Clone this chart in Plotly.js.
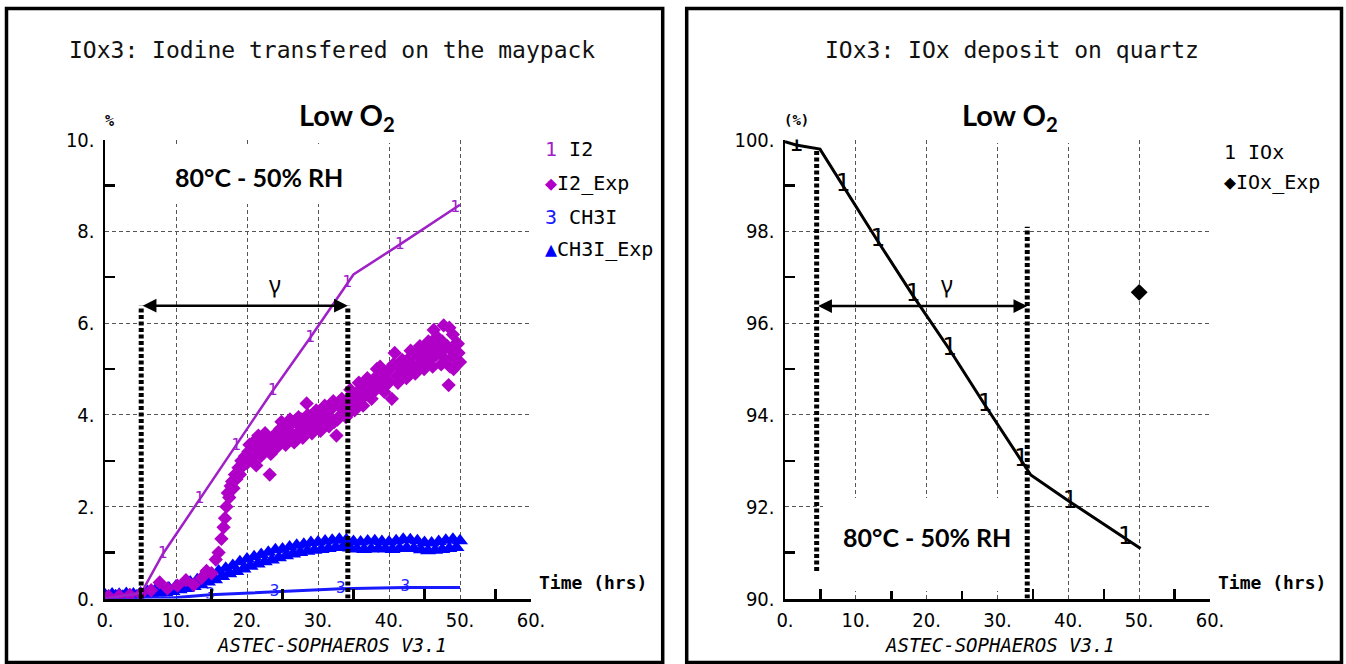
<!DOCTYPE html>
<html>
<head>
<meta charset="utf-8">
<script src="https://cdn.plot.ly/plotly-3.0.1.min.js"></script>
<style>
  html, body { margin: 0; padding: 0; background: #fff; }
  #chart { width: 1346px; height: 664px; }
</style>
</head>
<body>
<div id="chart"></div>
<script>
// ---------------- DATA ----------------
const xTickVals = [0, 10, 20, 30, 40, 50, 60];
const xTickText = ['0.', '10.', '20.', '30.', '40.', '50.', '60.'];
const xMinorVals = [5, 15, 25, 35, 45, 55];

const yLeftTickVals = [0, 2, 4, 6, 8, 10];
const yLeftTickText = ['0.', '2.', '4.', '6.', '8.', '10.'];
const yLeftMinorVals = [1, 3, 5, 7, 9];

const yRightTickVals = [90, 92, 94, 96, 98, 100];
const yRightTickText = ['90.', '92.', '94.', '96.', '98.', '100.'];
const yRightMinorVals = [91, 93, 95, 97, 99];

// I2 (calculation, curve "1")
const i2CalcX = [0, 5.1, 8.1, 13.3, 18.45, 23.6, 28.9, 34.1, 35.0, 41.5, 49.3, 50.0];
const i2CalcY = [0.0, 0.12, 0.96, 2.16, 3.33, 4.52, 5.68, 6.88, 7.06, 7.71, 8.51, 8.58];
const i2CalcLbl = ['', '', '1', '1', '1', '1', '1', '1', '', '1', '1', ''];

// CH3I (calculation, curve "3")
const ch3iCalcX = [0, 10.0, 14.8, 23.9, 33.2, 42.3, 50.0];
const ch3iCalcY = [0.0, 0.02, 0.08, 0.14, 0.21, 0.24, 0.24];
const ch3iCalcLbl = ['', '', '3', '3', '3', '3', ''];

// I2_Exp (experimental, diamonds)
const i2ExpX = [0.5, 2.0, 3.5, 5.0, 6.5, 7.7, 8.8, 10.2, 11.4, 12.5, 13.6, 14.3, 15.0, 15.6, 16.0, 16.4, 16.7, 16.9,
  17.1, 17.3, 17.5, 17.7, 17.9, 18.1, 18.3, 18.5, 18.8, 19.0, 19.2, 19.5, 19.7, 20.0, 20.2, 20.5,
  20.8, 21.0, 21.3, 21.6, 21.8, 22.1, 22.4, 22.7, 23.0, 23.2, 23.5, 23.8, 24.1, 24.4, 24.7, 25.0,
  25.3, 25.6, 25.9, 26.2, 26.5, 26.8, 27.1, 27.4, 27.7, 28.0, 28.4, 28.7, 29.0, 29.3, 29.6, 29.9,
  30.2, 30.5, 30.8, 31.1, 31.4, 31.7, 32.0, 32.3, 32.6, 32.9, 33.2, 33.5, 33.8, 34.1, 34.4, 34.7,
  35.0, 35.3, 35.6, 35.9, 36.2, 36.5, 36.8, 37.1, 37.4, 37.7, 38.0, 38.3, 38.6, 38.9, 39.2, 39.5,
  39.8, 40.1, 40.4, 40.8, 41.1, 41.4, 41.7, 42.0, 42.3, 42.6, 42.9, 43.2, 43.5, 43.9, 44.2, 44.5,
  44.8, 45.1, 45.4, 45.7, 46.0, 46.3, 46.6, 46.9, 47.2, 47.5, 47.7, 48.0, 48.2, 48.4, 48.6, 48.8,
  49.0, 49.2, 49.4, 49.6, 49.8, 50.0,
  20.35, 21.15, 21.95, 22.55, 23.35, 24.25, 24.85, 25.45, 26.05, 26.65, 27.25, 27.85, 28.55, 29.15, 29.75,
  30.35, 30.95, 31.55, 32.15, 32.75, 33.35, 33.95, 34.55, 35.15, 35.75, 36.35, 36.95, 37.55, 38.15, 38.75,
  39.35, 39.95, 40.6, 41.25, 41.85, 42.45, 43.05, 43.7, 44.35, 44.95, 45.55, 46.15, 46.75, 47.35, 47.85,
  48.5, 49.1, 49.7];
const i2ExpY = [0.05, 0.06, 0.08, 0.10, 0.18, 0.35, 0.22, 0.28, 0.40, 0.30, 0.45, 0.60, 0.55, 0.85, 1.00, 1.30, 1.55, 1.75,
  2.00, 2.30, 2.20, 2.45, 2.55, 2.40, 2.70, 2.60, 2.85, 2.70, 3.00, 2.90, 3.10, 2.95, 3.20, 3.05,
  3.30, 3.15, 2.90, 3.55, 3.25, 3.40, 3.20, 3.45, 3.30, 2.70, 3.50, 3.35, 3.60, 3.45, 3.70, 3.50,
  3.65, 3.40, 3.75, 3.60, 3.85, 3.55, 3.80, 3.65, 3.90, 3.70, 4.25, 3.85, 3.70, 3.95, 3.80, 4.00,
  3.85, 3.75, 4.05, 3.90, 4.10, 3.95, 4.15, 3.85, 3.55, 4.20, 4.00, 4.25, 4.10, 4.00, 4.35, 4.20,
  4.45, 4.30, 4.50, 4.35, 4.60, 4.40, 4.65, 4.50, 4.70, 4.55, 4.80, 5.00, 4.65, 4.85, 4.60, 4.90,
  4.75, 5.00, 4.35, 5.35, 4.85, 5.05, 4.90, 5.15, 4.95, 5.20, 5.00, 5.25, 5.05, 5.35, 5.10, 5.30,
  5.15, 5.40, 5.20, 5.45, 5.25, 5.85, 5.30, 5.55, 5.35, 5.60, 5.95, 5.20, 5.50, 4.65, 5.05, 5.40,
  5.75, 5.30, 5.55, 5.20, 5.35, 5.15,
  3.35, 3.45, 3.10, 3.60, 3.15, 3.30, 3.85, 3.35, 3.90, 3.40, 3.95, 3.50, 4.00, 3.60, 4.10,
  3.65, 4.20, 3.75, 4.30, 3.90, 4.35, 3.95, 4.55, 4.10, 4.70, 4.20, 4.80, 4.35, 4.55, 5.05,
  4.50, 4.70, 5.10, 4.70, 5.20, 4.80, 5.40, 4.90, 5.50, 5.00, 5.60, 5.05, 5.70, 5.10, 5.50,
  5.90, 5.00, 5.55];

// CH3I_Exp (experimental, triangles)
const ch3iExpX = [0, 0.5, 1, 1.5, 2, 2.5, 3, 3.5, 4, 4.5, 5, 5.5, 6, 6.5, 7, 7.5, 8, 8.5, 9, 9.5,
  10, 10.5, 11, 11.5, 12, 12.5, 13, 13.5, 14, 14.5, 15, 15.5, 16, 16.5, 17, 17.5, 18, 18.5, 19, 19.5,
  20, 20.5, 21, 21.5, 22, 22.5, 23, 23.5, 24, 24.5, 25, 25.5, 26, 26.5, 27, 27.5, 28, 28.5, 29, 29.5,
  30, 30.5, 31, 31.5, 32, 32.5, 33, 33.5, 34, 34.5, 35, 35.5, 36, 36.5, 37, 37.5, 38, 38.5, 39, 39.5,
  40, 40.5, 41, 41.5, 42, 42.5, 43, 43.5, 44, 44.5, 45, 45.5, 46, 46.5, 47, 47.5, 48, 48.5, 49, 49.5, 50];
const ch3iExpY = [0.08, 0.05, 0.10, 0.06, 0.09, 0.05, 0.11, 0.07, 0.10, 0.06, 0.12, 0.08, 0.15, 0.10, 0.17, 0.12, 0.20, 0.13, 0.23, 0.15,
  0.27, 0.19, 0.31, 0.22, 0.36, 0.26, 0.41, 0.30, 0.47, 0.36, 0.53, 0.41, 0.60, 0.48, 0.66, 0.54, 0.72, 0.59, 0.80, 0.64,
  0.86, 0.70, 0.91, 0.75, 0.96, 0.80, 1.01, 0.84, 1.06, 0.89, 1.08, 0.93, 1.12, 0.97, 1.16, 1.00, 1.18, 1.03, 1.22, 1.05,
  1.23, 1.07, 1.25, 1.09, 1.27, 1.11, 1.29, 1.12, 1.28, 1.10, 1.24, 1.08, 1.23, 1.07, 1.25, 1.08, 1.26, 1.09, 1.24, 1.08,
  1.23, 1.07, 1.26, 1.09, 1.29, 1.10, 1.28, 1.09, 1.26, 1.06, 1.22, 1.04, 1.21, 1.05, 1.24, 1.07, 1.27, 1.09, 1.29, 1.11, 1.26];

// Right panel: IOx deposit on quartz (%)
const iOxCalcX = [0, 1.55, 4.94, 8.14, 13.04, 18.02, 23.2, 28.2, 33.3, 34.7, 40.2, 48.0, 50.2];
const iOxCalcY = [99.95, 99.88, 99.79, 99.0, 97.8, 96.61, 95.43, 94.22, 93.02, 92.69, 92.11, 91.31, 91.09];
const iOxCalcLbl = ['', '1', '', '1', '1', '1', '1', '1', '1', '', '1', '1', ''];

const iOxExpX = [50];
const iOxExpY = [96.67];

// gamma phase markers (hrs)
const gammaLeft = { start: 5.1, end: 34.2, arrowY: 6.38, labelX: 24.0, labelY: 6.85 };
const gammaRight = { start: 4.47, end: 34.2, arrowY: 96.37, labelX: 22.8, labelY: 96.85,
                     startBottom: 90.6, startTop: 99.8, endTop: 98.1 };

// ---------------- STYLE / LAYOUT ----------------
const W = 1346, H = 664;
const px = v => v / W;
const py = v => 1 - v / H;

const PURPLE_LINE = '#a020c8';
const PURPLE = '#b000c8';
const BLUE = '#0000ff';
const MONO = 'DejaVu Sans Mono';
const TICKFONT = "'DejaVu Sans Condensed', 'Liberation Sans Narrow', 'Liberation Sans', sans-serif";
const CALIBRI = "Lato, 'Open Sans', sans-serif";

function xAxis(domain, anchor) {
  return {
    domain: domain, anchor: anchor, range: [0, 60],
    tickmode: 'array', tickvals: xTickVals, ticktext: xTickText,
    ticks: '', showline: true, linecolor: '#000', linewidth: 3,
    showgrid: true, gridcolor: '#555', gridwidth: 1, griddash: '4px,3px',
    zeroline: false, ticklabelstandoff: 1,
    tickfont: { family: TICKFONT, size: 20, color: '#000' },
    minor: { tickmode: 'array', tickvals: xMinorVals, ticks: 'inside', ticklen: 10,
             tickwidth: 2.5, tickcolor: '#000', showgrid: false },
    fixedrange: true
  };
}
function yAxis(domain, anchor, range, vals, text, minor) {
  return {
    domain: domain, anchor: anchor, range: range,
    tickmode: 'array', tickvals: vals, ticktext: text,
    ticks: '', showline: true, linecolor: '#000', linewidth: 2.5,
    showgrid: true, gridcolor: '#555', gridwidth: 1, griddash: '4px,3px',
    zeroline: false, ticklabelstandoff: 4,
    tickfont: { family: TICKFONT, size: 20, color: '#000' },
    minor: { tickmode: 'array', tickvals: minor, ticks: 'inside', ticklen: 10,
             tickwidth: 2.5, tickcolor: '#000', showgrid: false },
    fixedrange: true
  };
}

const traces = [
  { x: ch3iExpX, y: ch3iExpY, xaxis: 'x', yaxis: 'y', mode: 'markers', name: 'CH3I_Exp',
    marker: { symbol: 'triangle-up', size: 14, color: BLUE, line: { width: 0 } } },
  { x: ch3iCalcX, y: ch3iCalcY, xaxis: 'x', yaxis: 'y', mode: 'lines+text', name: 'CH3I',
    line: { color: '#1a1aff', width: 3 }, text: ch3iCalcLbl, textposition: 'middle center',
    textfont: { family: MONO, size: 16, color: '#1a1aff' } },
  { x: i2ExpX, y: i2ExpY, xaxis: 'x', yaxis: 'y', mode: 'markers', name: 'I2_Exp',
    marker: { symbol: 'diamond', size: 11, color: PURPLE, line: { width: 0 } } },
  { x: i2CalcX, y: i2CalcY, xaxis: 'x', yaxis: 'y', mode: 'lines+text', name: 'I2',
    line: { color: PURPLE_LINE, width: 2.5 }, text: i2CalcLbl, textposition: 'middle center',
    textfont: { family: MONO, size: 16, color: PURPLE_LINE } },
  { x: iOxCalcX, y: iOxCalcY, xaxis: 'x2', yaxis: 'y2', mode: 'lines+text', name: 'IOx',
    line: { color: '#000', width: 3 }, text: iOxCalcLbl, textposition: 'middle center',
    textfont: { family: MONO, size: 24, color: '#000' } },
  { x: iOxExpX, y: iOxExpY, xaxis: 'x2', yaxis: 'y2', mode: 'markers', name: 'IOx_Exp',
    marker: { symbol: 'diamond', size: 13, color: '#000' } }
];

function ann(text, x, y, font, extra) {
  return Object.assign({ text: text, xref: 'paper', yref: 'paper', x: px(x), y: py(y),
    showarrow: false, xanchor: 'center', yanchor: 'middle', font: font }, extra || {});
}
const titleFont = { family: MONO, size: 23, color: '#111' };
const legFont = { family: MONO, size: 20, color: '#000' };
const boldMono = { family: MONO, size: 18, color: '#000', weight: 'bold' };
const footFont = { family: MONO, size: 19, color: '#000' };
const lowFont = { family: CALIBRI, size: 29, color: '#000', weight: 'bold' };
const rhFont = { family: CALIBRI, size: 25, color: '#000', weight: 'bold' };
const gammaFont = { family: 'Noto Sans', size: 23, color: '#000' };

const annotations = [
  ann('IOx3: Iodine transfered on the maypack', 332, 50, titleFont),
  ann('IOx3: IOx deposit on quartz', 1012, 50, titleFont),
  ann('Low O<sub>2</sub>', 347, 117, lowFont),
  ann('Low O<sub>2</sub>', 1010, 117, lowFont),
  ann('80°C - 50% RH', 259, 177, rhFont),
  ann('80°C - 50% RH', 927, 537, rhFont),
  ann('%', 109, 121, { family: MONO, size: 15, color: '#000', weight: 'bold' }),
  ann('(%)', 796, 120, { family: MONO, size: 14, color: '#000', weight: 'bold' }),
  ann('Time (hrs)', 537, 582, boldMono, { xanchor: 'left' }),
  ann('Time (hrs)', 1216, 582, boldMono, { xanchor: 'left' }),
  ann('<i>ASTEC-SOPHAEROS V3.1</i>', 332, 645, footFont),
  ann('<i>ASTEC-SOPHAEROS V3.1</i>', 1000, 645, footFont),
  // legends
  ann("<span style='color:" + PURPLE_LINE + "'>1</span> I2", 543, 149, legFont, { xanchor: 'left' }),
  ann("<span style='color:" + PURPLE + "'>◆</span>I2_Exp", 543, 183, legFont, { xanchor: 'left' }),
  ann("<span style='color:#1a1aff'>3</span> CH3I", 543, 217, legFont, { xanchor: 'left' }),
  ann("<span style='color:" + BLUE + "'>▲</span>CH3I_Exp", 543, 249, legFont, { xanchor: 'left' }),
  ann('1 IOx', 1222, 152, legFont, { xanchor: 'left' }),
  ann('◆IOx_Exp', 1222, 182, legFont, { xanchor: 'left' }),
  // gamma arrows
  { xref: 'x', yref: 'y', axref: 'x', ayref: 'y', x: gammaLeft.end, y: gammaLeft.arrowY,
    ax: gammaLeft.start, ay: gammaLeft.arrowY, text: '', showarrow: true,
    arrowhead: 2, startarrowhead: 2, arrowside: 'end+start', arrowsize: 1.1, arrowwidth: 2.5, arrowcolor: '#000' },
  { xref: 'x2', yref: 'y2', axref: 'x2', ayref: 'y2', x: gammaRight.end, y: gammaRight.arrowY,
    ax: gammaRight.start, ay: gammaRight.arrowY, text: '', showarrow: true,
    arrowhead: 2, startarrowhead: 2, arrowside: 'end+start', arrowsize: 1.1, arrowwidth: 2.5, arrowcolor: '#000' },
  { xref: 'x', yref: 'y', x: gammaLeft.labelX, y: gammaLeft.labelY, text: 'γ', showarrow: false, font: gammaFont },
  { xref: 'x2', yref: 'y2', x: gammaRight.labelX, y: gammaRight.labelY, text: 'γ', showarrow: false, font: gammaFont }
];

const dotLine = { color: '#000', width: 5, dash: '4px,2.5px' };
function rectPx(x0, y0, x1, y1, extra) {
  return Object.assign({ type: 'rect', xref: 'paper', yref: 'paper',
    x0: px(x0), x1: px(x1), y0: py(y0), y1: py(y1) }, extra);
}
const shapes = [
  rectPx(160, 146, 358, 204, { fillcolor: '#fff', line: { width: 0 }, layer: 'above' }),
  rectPx(823, 498, 1025, 591, { fillcolor: '#fff', line: { width: 0 }, layer: 'above' }),
  rectPx(281, 100, 390, 143, { fillcolor: '#fff', line: { width: 0 }, layer: 'above' }),
  rectPx(928, 100, 1071, 143, { fillcolor: '#fff', line: { width: 0 }, layer: 'above' }),
  { type: 'line', xref: 'x', yref: 'y', x0: gammaLeft.start, x1: gammaLeft.start, y0: 0, y1: gammaLeft.arrowY, line: dotLine },
  { type: 'line', xref: 'x', yref: 'y', x0: gammaLeft.end, x1: gammaLeft.end, y0: 0, y1: gammaLeft.arrowY, line: dotLine },
  { type: 'line', xref: 'x2', yref: 'y2', x0: gammaRight.start, x1: gammaRight.start, y0: gammaRight.startBottom, y1: gammaRight.startTop, line: dotLine },
  { type: 'line', xref: 'x2', yref: 'y2', x0: gammaRight.end, x1: gammaRight.end, y0: 90, y1: gammaRight.endTop, line: dotLine },
  rectPx(6.5, 8.5, 662.7, 662.5, { line: { color: '#000', width: 3.5 }, fillcolor: 'rgba(0,0,0,0)' }),
  rectPx(686.7, 8.5, 1341.5, 662.5, { line: { color: '#000', width: 3.5 }, fillcolor: 'rgba(0,0,0,0)' })
];

const layout = {
  width: W, height: H,
  margin: { l: 0, r: 0, t: 0, b: 0, pad: 0 },
  paper_bgcolor: '#fff', plot_bgcolor: '#fff',
  showlegend: false, hovermode: false,
  xaxis: xAxis([px(105), px(531)], 'y'),
  yaxis: yAxis([py(598.5), py(139.5)], 'x', [0, 10], yLeftTickVals, yLeftTickText, yLeftMinorVals),
  xaxis2: xAxis([px(785), px(1210)], 'y2'),
  yaxis2: yAxis([py(598.5), py(139.5)], 'x2', [90, 100], yRightTickVals, yRightTickText, yRightMinorVals),
  annotations: annotations,
  shapes: shapes
};

Plotly.newPlot('chart', traces, layout, { staticPlot: true, displayModeBar: false });
</script>
</body>
</html>
